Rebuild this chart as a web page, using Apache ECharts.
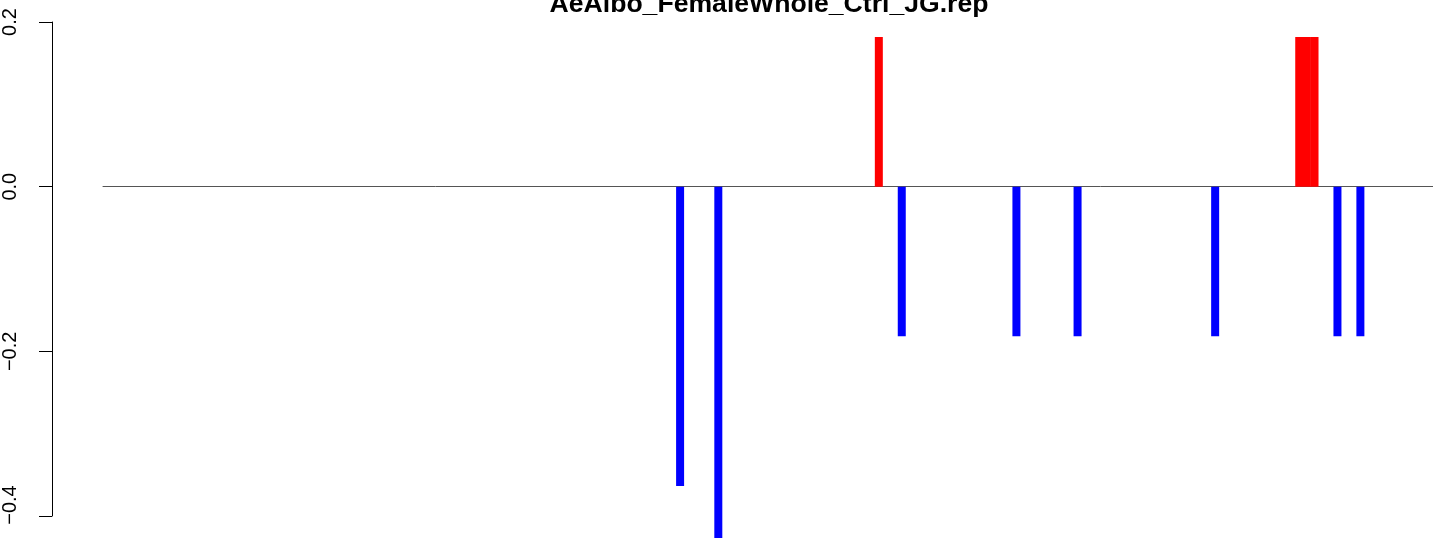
<!DOCTYPE html>
<html>
<head>
<meta charset="utf-8">
<script src="https://cdn.jsdelivr.net/npm/echarts@6/dist/echarts.min.js"></script>
<style>html,body{margin:0;padding:0;background:#fff}#c{width:1433px;height:538px}</style>
</head>
<body>
<div id="c"></div>
<script>
const titleText = "AeAlbo_FemaleWhole_Ctrl_JG.rep";
const categoryCount = 174;
const barPositions = [75, 80, 101, 104, 119, 127, 145, 156, 157, 158, 161, 164];
const barValues = [-0.3636, -0.4545, 0.1818, -0.1818, -0.1818, -0.1818, -0.1818, 0.1818, 0.1818, 0.1818, -0.1818, -0.1818];
const yTicks = [-0.4, -0.2, 0.0, 0.2];

const categories = [];
const values = [];
for (let i = 0; i < categoryCount; i++) { categories.push(String(i + 1)); values.push(null); }
barPositions.forEach((p, k) => { values[p] = barValues[k]; });

const chart = echarts.init(document.getElementById('c'), null, {renderer: 'canvas'});
chart.setOption({
  animation: false,
  backgroundColor: '#ffffff',
  title: {
    text: titleText,
    left: 764,
    textAlign: 'center',
    top: -14,
    textStyle: {fontFamily: 'Liberation Sans, Arial, sans-serif', fontWeight: 'bold', fontSize: 26.6, color: '#000'}
  },
  grid: {left: 103, right: 0, top: 22, bottom: 22, containLabel: false},
  xAxis: {
    type: 'category',
    data: categories,
    boundaryGap: true,
    axisLine: {show: true, onZero: true, lineStyle: {color: '#555555', width: 1}},
    axisTick: {show: false},
    axisLabel: {show: false},
    splitLine: {show: false}
  },
  yAxis: {
    type: 'value',
    min: yTicks[0],
    max: yTicks[yTicks.length - 1],
    interval: 0.2,
    offset: 51,
    axisLine: {show: true, lineStyle: {color: '#000', width: 1}},
    axisTick: {show: true, length: 13, lineStyle: {color: '#000', width: 1}},
    splitLine: {show: false},
    axisLabel: {
      rotate: 90,
      margin: 32,
      fontSize: 20,
      fontFamily: 'Liberation Sans, Arial, sans-serif',
      color: '#000',
      formatter: v => {
        const s = (v < 0 ? '\u2212' : '') + Math.abs(v).toFixed(1);
        return Math.abs(v - yTicks[0]) < 1e-9 ? '{low|' + s + '}' : s;
      },
      rich: {
        low: {fontSize: 20, fontFamily: 'Liberation Sans, Arial, sans-serif', color: '#000', padding: [0, 0, 0, 22]}
      }
    }
  },
  series: [{
    type: 'bar',
    data: values,
    barWidth: 8,
    barCategoryGap: '0%',
    clip: false,
    itemStyle: {color: p => (p.value > 0 ? '#ff0000' : '#0000ff')}
  }]
});
</script>
</body>
</html>
